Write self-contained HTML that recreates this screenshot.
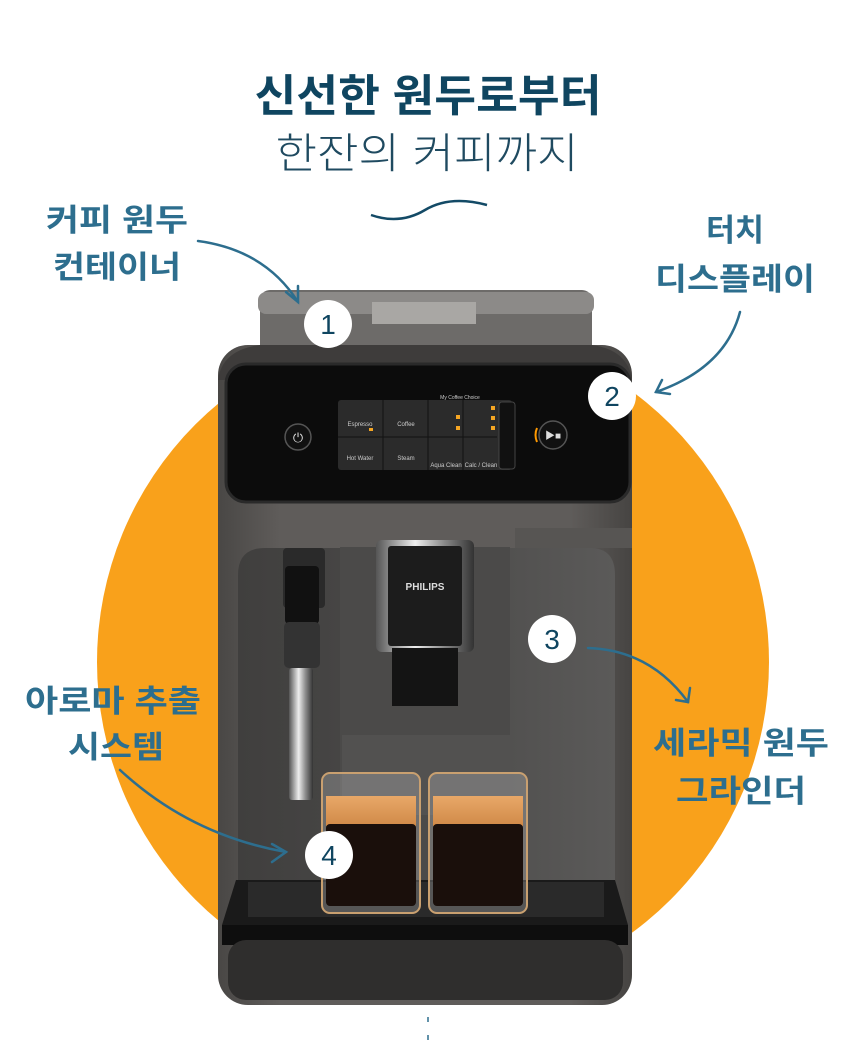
<!DOCTYPE html>
<html><head><meta charset="utf-8"><style>
html,body{margin:0;padding:0;background:#fff;}
svg{display:block}
text{font-family:"Liberation Sans","Noto Sans CJK KR",sans-serif;}
</style></head><body>
<svg width="856" height="1050" viewBox="0 0 856 1050" xmlns="http://www.w3.org/2000/svg">
<defs>
<linearGradient id="body" x1="0" x2="1" y1="0" y2="0">
<stop offset="0" stop-color="#494745"/><stop offset="0.15" stop-color="#5f5c5a"/><stop offset="0.85" stop-color="#5f5c5a"/><stop offset="1" stop-color="#464442"/></linearGradient>
<linearGradient id="inner" x1="0" x2="1"><stop offset="0" stop-color="#403f3e"/><stop offset="0.5" stop-color="#4b4a49"/><stop offset="1" stop-color="#5b5a59"/></linearGradient>
<linearGradient id="chrome" x1="0" x2="1"><stop offset="0" stop-color="#555"/><stop offset="0.4" stop-color="#eee"/><stop offset="0.7" stop-color="#888"/><stop offset="1" stop-color="#333"/></linearGradient>
<linearGradient id="crema" x1="0" y1="0" x2="0" y2="1"><stop offset="0" stop-color="#e8a868"/><stop offset="1" stop-color="#d08a48"/></linearGradient>
</defs>
<circle cx="433" cy="662" r="336" fill="#F9A11B"/>
<text x="428" y="111" text-anchor="middle" font-size="44" font-weight="bold" fill="#0f4560" textLength="347" lengthAdjust="spacingAndGlyphs">신선한 원두로부터</text>
<text x="427" y="168" text-anchor="middle" font-size="42" fill="#1f4a60" font-weight="300" textLength="303" lengthAdjust="spacingAndGlyphs">한잔의 커피까지</text>
<path d="M371 215 Q400 225 425 210 Q450 195 487 205" fill="none" stroke="#134a66" stroke-width="2.5"/>
<g font-weight="bold" fill="#2d6e8e" font-size="31">
<text x="117" y="231" text-anchor="middle" textLength="142" lengthAdjust="spacingAndGlyphs">커피 원두</text>
<text x="117" y="278" text-anchor="middle" textLength="128" lengthAdjust="spacingAndGlyphs">컨테이너</text>
<text x="735" y="241" text-anchor="middle" textLength="58" lengthAdjust="spacingAndGlyphs">터치</text>
<text x="735" y="290" text-anchor="middle" textLength="160" lengthAdjust="spacingAndGlyphs">디스플레이</text>
<text x="113" y="712" text-anchor="middle" textLength="176" lengthAdjust="spacingAndGlyphs">아로마 추출</text>
<text x="116" y="758" text-anchor="middle" textLength="96" lengthAdjust="spacingAndGlyphs">시스템</text>
<text x="741" y="754" text-anchor="middle" textLength="176" lengthAdjust="spacingAndGlyphs">세라믹 원두</text>
<text x="741" y="802" text-anchor="middle" textLength="130" lengthAdjust="spacingAndGlyphs">그라인더</text>
</g>
<rect x="218" y="345" width="414" height="660" rx="30" fill="url(#body)"/>
<rect x="260" y="290" width="332" height="72" rx="10" fill="#6d6b69"/>
<rect x="258" y="292" width="336" height="22" rx="8" fill="#8c8a88"/>
<rect x="372" y="302" width="104" height="22" fill="#a9a7a4"/>
<path d="M218 380 Q222 350 260 345 L592 345 Q628 350 632 380 Z" fill="#3e3c3b"/>
<rect x="226" y="364" width="404" height="138" rx="20" fill="#0c0c0c" stroke="#2a2a2a" stroke-width="3"/>
<rect x="338" y="400" width="174" height="70" rx="3" fill="#2b2b2b"/>
<line x1="383" y1="400" x2="383" y2="470" stroke="#111"/><line x1="428" y1="400" x2="428" y2="470" stroke="#111"/><line x1="463" y1="400" x2="463" y2="470" stroke="#111"/><line x1="338" y1="437" x2="497" y2="437" stroke="#111"/>
<rect x="499" y="402" width="16" height="67" rx="3" fill="#111" stroke="#444"/>
<g font-size="6" fill="#ccc" text-anchor="middle"><text x="360" y="426">Espresso</text><text x="406" y="426">Coffee</text><text x="360" y="460">Hot Water</text><text x="406" y="460">Steam</text><text x="446" y="467">Aqua Clean</text><text x="481" y="467">Calc / Clean</text><text x="460" y="399" font-size="5">My Coffee Choice</text></g>
<circle cx="298" cy="437" r="13" fill="#111" stroke="#555" stroke-width="1.5"/>
<text x="298" y="442" font-size="13" fill="#ddd" text-anchor="middle">⏻</text>
<circle cx="553" cy="435" r="14" fill="#111" stroke="#555" stroke-width="1.5"/>
<text x="553" y="439" font-size="10" fill="#ddd" text-anchor="middle">▶■</text>
<path d="M537 428 Q534 435 537 442" stroke="#f90" stroke-width="2" fill="none"/>
<g fill="#f5a623"><rect x="456" y="415" width="4" height="4"/><rect x="456" y="426" width="4" height="4"/><rect x="491" y="406" width="4" height="4"/><rect x="491" y="416" width="4" height="4"/><rect x="491" y="426" width="4" height="4"/><rect x="369" y="428" width="4" height="3"/></g>
<path d="M238 575 Q238 548 265 548 L590 548 Q615 548 615 575 L615 910 L238 910 Z" fill="url(#inner)"/>
<rect x="515" y="528" width="117" height="20" fill="#575553"/>
<rect x="340" y="547" width="170" height="365" fill="#4b4a49"/>
<rect x="342" y="735" width="168" height="80" fill="#525150"/>
<rect x="376" y="540" width="98" height="112" rx="6" fill="url(#chrome)"/>
<rect x="388" y="546" width="74" height="100" rx="3" fill="#1c1c1c"/>
<text x="425" y="590" font-size="10" font-weight="bold" fill="#ddd" text-anchor="middle">PHILIPS</text>
<rect x="392" y="648" width="66" height="58" fill="#141414"/>
<rect x="283" y="548" width="42" height="60" rx="4" fill="#2a2a2a"/>
<rect x="285" y="566" width="34" height="58" rx="4" fill="#111"/>
<rect x="284" y="622" width="36" height="46" rx="5" fill="#333"/>
<rect x="289" y="668" width="24" height="132" rx="3" fill="url(#chrome)"/>
<path d="M236 880 L615 880 L628 925 L222 925 Z" fill="#1a1a1a"/>
<rect x="248" y="882" width="356" height="35" fill="#2a2a2a"/>
<path d="M222 925 L628 925 L628 945 L222 945 Z" fill="#0e0e0e"/>
<rect x="228" y="940" width="395" height="60" rx="18" fill="#2f2e2d"/>
<g>
<rect x="322" y="773" width="98" height="140" rx="8" fill="rgba(220,220,220,0.25)" stroke="#c9a070" stroke-width="2"/>
<rect x="326" y="796" width="90" height="30" fill="url(#crema)"/>
<rect x="326" y="824" width="90" height="82" rx="4" fill="#1a0f0b"/>
<rect x="429" y="773" width="98" height="140" rx="8" fill="rgba(220,220,220,0.25)" stroke="#c9a070" stroke-width="2"/>
<rect x="433" y="796" width="90" height="30" fill="url(#crema)"/>
<rect x="433" y="824" width="90" height="82" rx="4" fill="#1a0f0b"/>
</g>
<g fill="none" stroke="#2d6e8e" stroke-width="2.5" stroke-linecap="round">
<path d="M198 241 Q265 250 298 302"/><path d="M286 292 L298 302 L298 286"/>
<path d="M740 312 Q725 368 656 392"/><path d="M662 380 L656 392 L670 394"/>
<path d="M588 648 Q650 650 688 702"/><path d="M676 700 L688 702 L690 688"/>
<path d="M120 770 Q190 835 286 852"/><path d="M272 844 L286 852 L272 862"/>
</g>
<g font-size="28" fill="#0f4560" text-anchor="middle">
<circle cx="328" cy="324" r="24" fill="#fff"/><text x="328" y="334">1</text>
<circle cx="612" cy="396" r="24" fill="#fff"/><text x="612" y="406">2</text>
<circle cx="552" cy="639" r="24" fill="#fff"/><text x="552" y="649">3</text>
<circle cx="329" cy="855" r="24" fill="#fff"/><text x="329" y="865">4</text>
</g>
<line x1="428" y1="1017" x2="428" y2="1022" stroke="#2d6e8e" stroke-width="1.5"/>
<line x1="428" y1="1035" x2="428" y2="1040" stroke="#2d6e8e" stroke-width="1.5"/>
</svg>
</body></html>
